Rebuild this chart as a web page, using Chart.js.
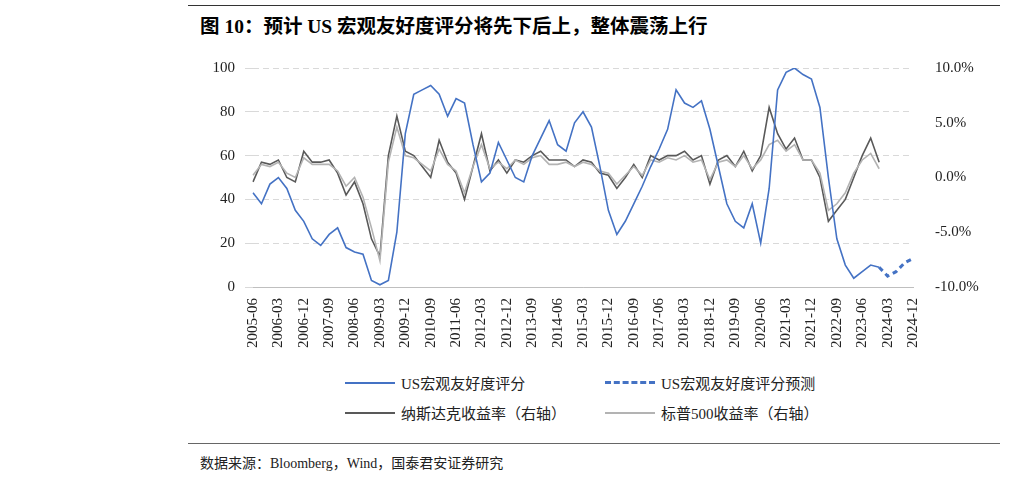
<!DOCTYPE html>
<html>
<head>
<meta charset="utf-8">
<script src="https://cdn.jsdelivr.net/npm/chart.js@4"></script>
<style>
  body { margin:0; width:1012px; height:477px; background:#fff; position:relative; font-family:"Liberation Serif","Noto Sans CJK SC",serif; overflow:hidden; }
  .rule { position:absolute; left:188px; width:812px; }
  #title { position:absolute; left:200px; top:10px; font-size:19.5px; font-weight:bold; color:#000; font-family:"Liberation Serif","Noto Sans CJK SC",serif; }
  #box { position:absolute; left:188px; top:45px; width:812px; height:320px; }
  .lg { position:absolute; font-size:15px; color:#222; display:flex; align-items:center; }
  .lg span.ln { display:inline-block; width:50px; margin-right:6px; }
  #src { position:absolute; left:200px; top:452px; font-size:14px; color:#222; }
</style>
</head>
<body>
<div class="rule" style="top:5px;border-top:1.5px solid #333"></div>
<div id="title">图 10：预计 US 宏观友好度评分将先下后上，整体震荡上行</div>
<div id="box"><canvas id="chart"></canvas></div>
<div class="lg" style="left:345px;top:372px"><span class="ln" style="border-top:2px solid #4472C4"></span>US宏观友好度评分</div>
<div class="lg" style="left:605px;top:372px"><span class="ln" style="border-top:3px dashed #4472C4"></span>US宏观友好度评分预测</div>
<div class="lg" style="left:345px;top:402px"><span class="ln" style="border-top:2px solid #595959"></span>纳斯达克收益率（右轴）</div>
<div class="lg" style="left:605px;top:402px"><span class="ln" style="border-top:2px solid #b3b3b3"></span>标普500收益率（右轴）</div>
<div class="rule" style="top:443px;border-top:1px solid #666"></div>
<div id="src">数据来源：Bloomberg，Wind，国泰君安证券研究</div>
<script>
// quarterly labels 2005-06 .. 2024-12
const labels = [];
for (let y = 2005; y <= 2024; y++) {
  for (const m of ['03', '06', '09', '12']) {
    if (y === 2005 && m === '03') continue;
    labels.push(y + '-' + m);
  }
}

const score = [43,38,47,50,45,35,30,22,19,24,
  27,18,16,15,3,1,3,25,70,88,
  90,92,88,78,86,84,65,48,52,66,
  58,50,48,60,68,76,65,62,75,80,
  73,55,35,24,30,38,46,55,63,72,
  90,84,82,85,72,55,38,30,27,38,
  20,45,90,98,100,97,95,82,50,22,
  10,4,7,10,9];

const forecast = [9,5,7,11,13]; // 2023-12 .. 2024-12

const nasdaq = [-0.4,1.4,1.2,1.6,0,-0.4,2.4,1.4,1.4,1.6,
  0.4,-1.6,-0.4,-2.4,-5.6,-7.2,2,5.6,2.4,2,
  1,0,3.4,1.4,0.4,-2,1,4,0.6,1.6,
  0.4,1.6,1.4,2,2.4,1.6,1.6,1.6,1,1.6,
  1.4,0.4,0.2,-1,0,1.2,0,2,1.6,2,
  2,2.4,1.6,2,-0.6,1.6,2,1,2.4,0.6,
  2,6.4,4,2.6,3.6,1.6,1.6,0,-4,-3,
  -2,0,2,3.6,1.4];

const sp500 = [0.2,1.2,1.0,1.4,0.4,0,1.8,1.2,1.2,1.2,
  0.6,-0.8,0,-1.8,-4.6,-7.6,1.4,4.6,2,1.8,
  1.2,0.6,2.6,1.2,0.6,-1.4,1,3,0.8,1.4,
  0.8,1.6,1.2,1.8,2,1.2,1.2,1.4,1,1.4,
  1.2,0.6,0.4,-0.6,0.2,1,0.2,1.6,1.4,1.8,
  1.6,2,1.4,1.6,-0.2,1.4,1.6,1,2,0.8,
  1.6,3,3.4,2.4,3,1.6,1.6,0.4,-3,-2.4,
  -1.4,0.4,1.6,2.2,0.8];

const forecastData = Array(score.length - 1).fill(null).concat(forecast);
const font = { family: '"Liberation Serif", serif', size: 15 };

new Chart(document.getElementById('chart'), {
  type: 'line',
  data: {
    labels: labels,
    datasets: [{
      data: score, borderColor: '#4472C4', borderWidth: 1.6, yAxisID: 'y', order: 1
    }, {
      data: forecastData, borderColor: '#4472C4', borderWidth: 3, borderDash: [5, 4], yAxisID: 'y', order: 0
    }, {
      data: nasdaq, borderColor: '#595959', borderWidth: 1.6, yAxisID: 'y2', order: 3
    }, {
      data: sp500, borderColor: '#b3b3b3', borderWidth: 1.6, yAxisID: 'y2', order: 2
    }]
  },
  options: {
    responsive: true,
    maintainAspectRatio: false,
    animation: false,
    elements: { point: { radius: 0 }, line: { tension: 0 } },
    layout: { padding: { top: 16 } },
    plugins: { legend: { display: false }, tooltip: { enabled: false } },
    scales: {
      x: {
        grid: { display: false },
        border: { color: '#bfbfbf' },
        ticks: {
          autoSkip: false, maxRotation: 90, minRotation: 90, color: '#222', font: font,
          callback: (v, i) => (i % 3 === 0 ? labels[i] : null)
        },
        afterFit: (s) => { s.height = 78; }
      },
      y: {
        position: 'left', min: 0, max: 100,
        border: { display: false, dash: [6, 4] },
        grid: { color: '#d9d9d9' },
        ticks: { stepSize: 20, color: '#222', font: font, padding: 10 },
        afterFit: (s) => { s.width = 65; }
      },
      y2: {
        position: 'right', min: -10, max: 10,
        border: { display: false },
        grid: { display: false },
        ticks: { stepSize: 5, color: '#222', font: font, padding: 14, callback: (v) => v.toFixed(1) + '%' },
        afterFit: (s) => { s.width = 87; }
      }
    }
  }
});
</script>
</body>
</html>
